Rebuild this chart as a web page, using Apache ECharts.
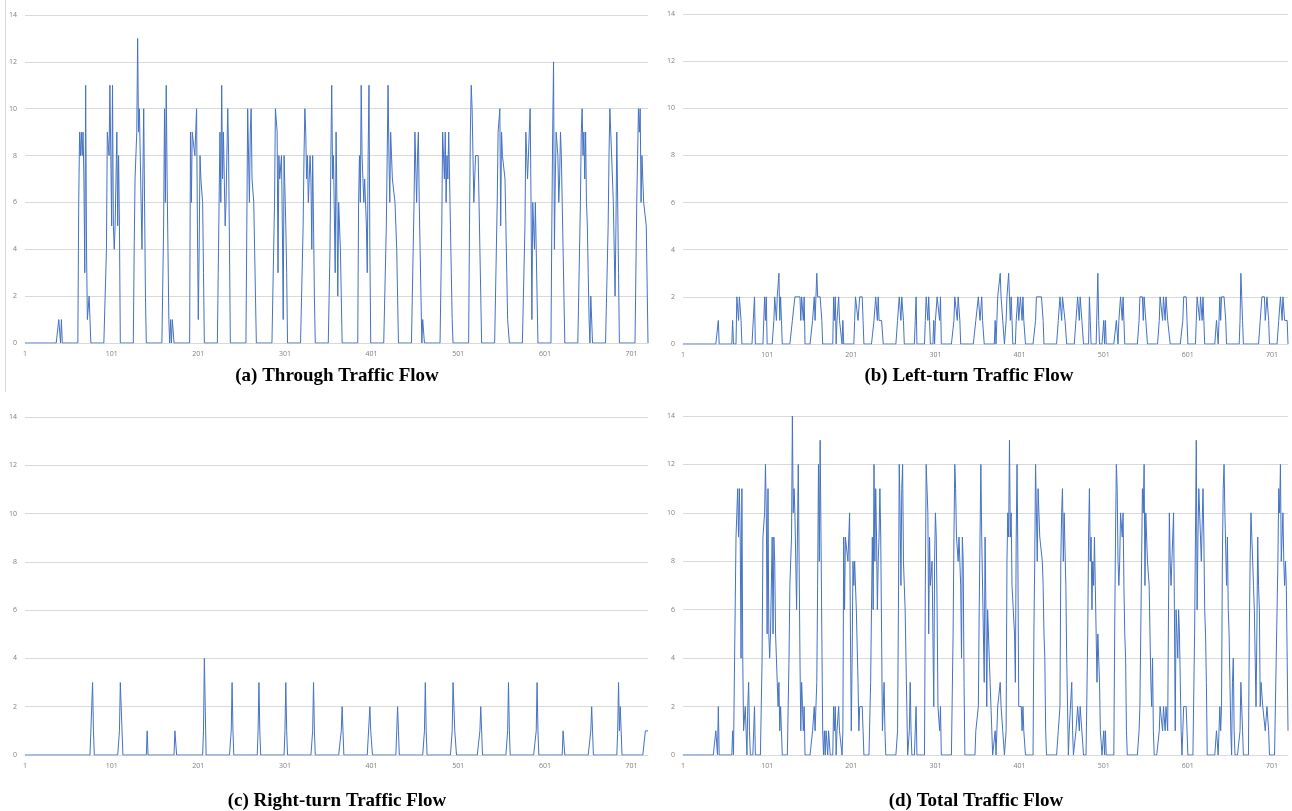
<!DOCTYPE html>
<html>
<head>
<meta charset="utf-8">
<title>Traffic Flow</title>
<script src="https://cdn.jsdelivr.net/npm/echarts@6/dist/echarts.min.js"></script>
<style>
html, body { margin: 0; padding: 0; background: #fff; }
#chart { width: 1292px; height: 811px; }
</style>
</head>
<body>
<div id="chart"></div>
<script>
const pointCount = 720;
const yTicks = { min: 0, max: 14, step: 2 };
const panelTitles = ['(a) Through Traffic Flow', '(b) Left-turn Traffic Flow',
    '(c) Right-turn Traffic Flow', '(d) Total Traffic Flow'];

// each burst: [first point (1-based), values...]; points not listed are 0
const throughBursts = [
    [40, [1, 1, 0, 1]],
    [63, [6, 9, 8, 9, 8, 9, 7, 3, 11, 4, 1, 1, 2, 1]],
    [95, [4, 9, 9, 8, 11, 8, 5, 11, 5, 4, 5, 5, 9, 5, 8, 5]],
    [127, [4, 7, 7, 9, 13, 9, 10, 8, 6, 4, 7, 10, 6, 2]],
    [161, [5, 10, 6, 11, 7, 4, 1, 0, 1, 0, 1, 1]],
    [192, [9, 6, 9, 9, 9, 8, 8, 10, 5, 1, 4, 8, 7, 7, 6, 3]],
    [224, [3, 6, 9, 6, 11, 7, 9, 7, 5, 6, 8, 10, 8, 4]],
    [257, [5, 10, 8, 6, 9, 10, 7, 7, 6, 4, 2]],
    [289, [6, 10, 10, 9, 3, 8, 7, 7, 8, 5, 1, 8, 8, 5, 3]],
    [322, [5, 8, 10, 9, 7, 8, 6, 7, 8, 7, 4, 8, 5, 2]],
    [353, [4, 8, 11, 7, 8, 8, 3, 9, 6, 2, 6, 6, 4, 2]],
    [386, [6, 8, 6, 11, 8, 8, 6, 7, 7, 5, 3, 8, 11, 4]],
    [418, [5, 8, 11, 8, 6, 9, 8, 7, 7, 7, 6, 6, 4, 2]],
    [450, [6, 9, 9, 6, 8, 9, 6, 4, 2, 0, 1, 1]],
    [482, [5, 9, 9, 7, 9, 6, 8, 7, 9, 7, 5, 3, 1]],
    [514, [5, 9, 11, 10, 8, 6, 7, 8, 8, 8, 8, 6, 4, 2]],
    [546, [6, 9, 9, 10, 5, 9, 8, 8, 8, 7, 5, 3, 1, 1]],
    [578, [5, 9, 8, 7, 7, 9, 10, 6, 1, 6, 6, 4, 6, 4, 2]],
    [609, [5, 9, 12, 4, 7, 9, 9, 8, 6, 7, 9, 8, 6, 4, 2]],
    [642, [6, 9, 10, 8, 9, 7, 9, 6, 5, 3, 1, 0, 2, 2]],
    [674, [5, 8, 10, 9, 9, 7, 6, 4, 2, 5, 9, 6, 3]],
    [707, [6, 8, 10, 9, 10, 6, 8, 8, 6, 6, 6, 5, 5, 0]]
];

const leftBursts = [
    [43, [1]],
    [60, [1]],
    [65, [2, 2, 1, 2, 2, 1]],
    [86, [2]],
    [98, [2, 1, 2]],
    [109, [1, 2, 2, 1, 2, 2, 3, 1, 2, 1]],
    [131, [1, 1, 1, 2, 2, 2, 2, 2, 2, 2, 1, 2, 2, 1, 2]],
    [155, [1, 1, 2, 1, 1, 3, 2, 2, 2, 2, 2, 1]],
    [180, [2, 1, 2, 0, 1, 1, 2, 1, 1, 1, 0, 1]],
    [205, [1, 2, 2, 2, 1, 1, 2, 2, 2, 2, 1]],
    [228, [1, 1, 2, 2, 1, 2, 1, 1, 1, 1, 1]],
    [256, [1, 1, 2, 2, 1, 2, 2, 1]],
    [277, [1, 2]],
    [289, [1, 2, 2, 1, 2, 1]],
    [299, [1, 0, 1, 1, 2, 2, 2, 1, 2]],
    [323, [1, 2, 2, 2, 1, 2, 2, 1]],
    [349, [1, 1, 1, 2, 2, 1, 1, 2, 1, 1]],
    [372, [1, 0, 1, 2, 2, 2, 3, 2, 2, 1, 1, 0, 0, 1, 2, 2, 3, 2, 1, 2, 1]],
    [397, [1, 1, 2, 1, 1, 2, 2, 1, 2, 1, 1]],
    [420, [1, 2, 2, 2, 2, 2, 2, 2, 2, 1]],
    [447, [1, 1, 2, 2, 1, 2, 2, 2, 1, 1]],
    [468, [1, 1, 2, 2, 1, 2, 2, 1, 1]],
    [484, [2, 1]],
    [494, [3, 1]],
    [501, [1, 0, 1]],
    [516, [1, 1, 0, 1, 1, 2, 2, 1, 2, 1]],
    [543, [1, 2, 2, 2, 2, 1, 2, 2, 1, 1]],
    [567, [1, 2, 2, 2, 1, 2, 2, 1, 2, 2, 1, 1, 1]],
    [595, [1, 2, 2, 2, 2, 1]],
    [611, [1, 2, 2, 2, 1, 2, 2, 1, 2, 1]],
    [635, [1, 1, 0, 1, 2, 1, 2, 2, 2, 2, 2, 1]],
    [663, [1, 3, 2, 1]],
    [687, [1, 1, 2, 2, 2, 2, 1, 1, 2, 2, 1]],
    [709, [1, 1, 2, 2, 1, 2, 2, 1, 1, 1, 1]]
];

const rightBursts = [
    [78, [2, 3, 1]],
    [110, [1, 3, 3, 1]],
    [142, [1]],
    [174, [1, 1]],
    [207, [1, 4, 2]],
    [239, [1, 3, 1]],
    [270, [1, 3, 1]],
    [301, [1, 3, 1]],
    [333, [1, 3, 1]],
    [366, [1, 2, 1]],
    [399, [2, 1, 1]],
    [430, [1, 2, 1]],
    [462, [1, 3, 1]],
    [494, [1, 3, 3, 1, 1]],
    [526, [1, 2, 1]],
    [558, [1, 3, 1]],
    [591, [1, 3, 1]],
    [622, [1, 1]],
    [654, [1, 2, 1]],
    [685, [1, 3, 1, 2, 1]],
    [717, [1, 1, 1, 1]]
];

const totalBursts = [
    [40, [1, 1, 0, 2]],
    [60, [1]],
    [63, [6, 9, 10, 11, 9, 11, 9, 4, 11, 4, 1, 1, 2, 1, 0, 2, 3, 1]],
    [86, [2]],
    [95, [4, 9, 9, 10, 12, 10, 5, 11, 5, 4, 5, 5, 9, 5, 9, 8, 5, 4, 3, 2, 3, 1, 2, 1]],
    [127, [4, 7, 7, 9, 14, 10, 11, 10, 8, 6, 9, 12, 8, 4, 1, 3, 2, 1, 2]],
    [155, [1, 1, 2, 1, 1, 3, 7, 12, 8, 13, 9, 5, 1, 0, 1, 0, 1, 1, 0, 1, 1]],
    [180, [2, 1, 2, 0, 1, 1, 2, 1, 1, 1, 0, 1, 9, 6, 9, 9, 9, 8, 8, 10, 5, 1, 4, 8, 7,
        8, 8, 6, 6, 3, 1, 2, 2, 2, 2, 1]],
    [224, [3, 6, 9, 6, 12, 8, 11, 9, 6, 8, 9, 11, 9, 5, 1, 1, 3, 1]],
    [256, [1, 6, 12, 10, 7, 11, 12, 8, 7, 6, 4, 2]],
    [270, [1, 3, 1]],
    [277, [1, 2]],
    [289, [7, 12, 12, 10, 5, 9, 7, 7, 8, 5, 2, 8, 10, 9, 6, 2, 2, 1, 2]],
    [322, [5, 9, 12, 11, 9, 9, 8, 9, 9, 7, 4, 9, 8, 3]],
    [349, [1, 1, 1, 2, 6, 9, 12, 9, 9, 9, 3, 9, 6, 2, 6, 6, 4, 3, 2, 1]],
    [372, [1, 0, 1, 2, 2, 2, 3, 2, 2, 1, 1, 0, 0, 1, 8, 10, 9, 13, 9, 10, 7, 7, 7, 5, 3,
        9, 12, 8, 2, 2, 2, 2, 1, 2, 1, 1]],
    [418, [5, 8, 12, 10, 8, 11, 10, 9, 9, 9, 8, 7, 5, 4, 1]],
    [447, [1, 1, 2, 8, 10, 11, 8, 10, 10, 7, 4, 2, 0, 1, 1, 1, 3, 1]],
    [468, [1, 1, 2, 2, 1, 2, 2, 1, 1]],
    [482, [5, 9, 11, 8, 9, 6, 8, 7, 9, 7, 5, 3, 5, 4, 3, 1, 1]],
    [501, [1, 0, 1]],
    [514, [5, 9, 12, 11, 8, 7, 8, 10, 10, 9, 10, 7, 5, 4, 1]],
    [543, [1, 2, 2, 8, 11, 10, 12, 7, 10, 9, 8, 8, 7, 5, 3, 2, 4, 1]],
    [567, [1, 2, 2, 2, 1, 2, 2, 1, 2, 2, 1, 6, 10, 8, 7, 7, 9, 10, 6, 1, 6, 6, 4, 6, 5,
        5, 1]],
    [595, [1, 2, 2, 2, 2, 1]],
    [609, [5, 9, 13, 6, 9, 11, 10, 10, 8, 8, 11, 9, 6, 5, 3]],
    [635, [1, 1, 0, 1, 2, 1, 2, 8, 11, 12, 10, 10, 7, 9, 6, 5, 3, 1, 0, 3, 4, 1]],
    [663, [1, 3, 2, 1]],
    [674, [5, 8, 10, 9, 9, 7, 6, 4, 2, 5, 9, 7, 6, 2, 3, 3, 2, 2, 2, 1, 1, 2, 2, 1]],
    [707, [6, 8, 11, 10, 12, 8, 9, 10, 8, 7, 8, 7, 7, 1]]
];

function expand(bursts) {
    var out = new Array(pointCount).fill(0);
    bursts.forEach(function (b) {
        b[1].forEach(function (v, i) {
            out[b[0] - 1 + i] = v;
        });
    });
    return out;
}

function drawPanels(target) {
    var chartDom = document.getElementById(target);
    var myChart = echarts.init(chartDom, null, { renderer: 'canvas' });

    var categories = [];
    for (var i = 1; i <= pointCount; i++) categories.push(String(i));

    var seriesData = [expand(throughBursts), expand(leftBursts), expand(rightBursts), expand(totalBursts)];

    var grids = [
        { left: 25, top: 15, width: 623, height: 328 },
        { left: 683, top: 14, width: 605, height: 330 },
        { left: 25, top: 417, width: 623, height: 338 },
        { left: 683, top: 416, width: 605, height: 339 }
    ];
    var titlePos = [[337, 367], [969, 367], [337, 792], [976, 792]];
    var labelFont = { fontSize: 7, color: '#7f7f7f', fontFamily: 'Open Sans' };

    var option = {
        animation: false,
        backgroundColor: '#fff',
        title: panelTitles.map(function (t, k) {
            return {
                text: t,
                left: titlePos[k][0],
                top: titlePos[k][1],
                textAlign: 'center',
                padding: 0,
                textStyle: {
                    fontFamily: 'Liberation Serif',
                    fontWeight: 'bold',
                    fontSize: 19,
                    color: '#000'
                }
            };
        }),
        graphic: [{
            type: 'line',
            shape: { x1: 5.5, y1: 0, x2: 5.5, y2: 392 },
            style: { stroke: '#d9d9d9', lineWidth: 1 }
        }],
        grid: grids,
        xAxis: grids.map(function (g, k) {
            return {
                type: 'category',
                gridIndex: k,
                data: categories,
                boundaryGap: false,
                axisTick: { show: false },
                axisLine: { lineStyle: { color: '#d9d9d9' } },
                axisLabel: Object.assign({ interval: 99, margin: 7 }, labelFont),
                splitLine: { show: false }
            };
        }),
        yAxis: grids.map(function (g, k) {
            return {
                type: 'value',
                gridIndex: k,
                min: yTicks.min,
                max: yTicks.max,
                interval: yTicks.step,
                axisLine: { show: false },
                axisTick: { show: false },
                axisLabel: Object.assign({ margin: 8 }, labelFont),
                splitLine: { lineStyle: { color: '#d9d9d9' } }
            };
        }),
        series: seriesData.map(function (d, k) {
            return {
                type: 'line',
                xAxisIndex: k,
                yAxisIndex: k,
                data: d,
                showSymbol: false,
                symbol: 'none',
                lineStyle: { width: 1, color: '#4472c4' }
            };
        })
    };
    myChart.setOption(option);

    window.onresize = function () {
        myChart.resize();
    };
}

drawPanels('chart');
</script>
</body>
</html>
